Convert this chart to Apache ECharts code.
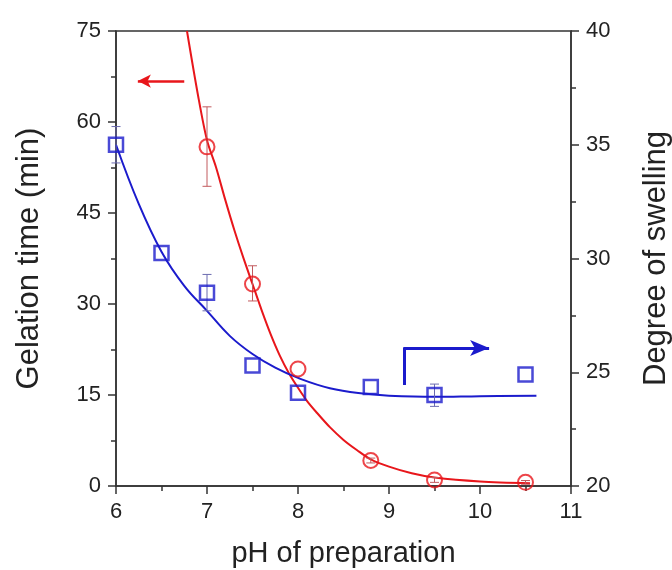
<!DOCTYPE html>
<html>
<head>
<meta charset="utf-8">
<script src="https://cdn.jsdelivr.net/npm/echarts@6/dist/echarts.min.js"></script>
<style>
  html, body { margin: 0; padding: 0; background: #fff; }
  #chart { width: 672px; height: 570px; }
</style>
</head>
<body>
<div id="chart"></div>
<script>
// measured points: gelation time (left axis)
const phGel = [7, 7.5, 8, 8.8, 9.5, 10.5]
const gelTime = [55.9, 33.3, 19.3, 4.2, 1.0, 0.6]
const gelLow = [49.4, 30.5, 19.3, 3.8, 0.6, 0.3]
const gelHigh = [62.5, 36.3, 19.3, 4.6, 1.4, 0.9]

// measured points: degree of swelling (right axis)
const phSwell = [6, 6.5, 7, 7.5, 8, 8.8, 9.5, 10.5]
const swelling = [35.0, 30.24, 28.5, 25.3, 24.1, 24.35, 24.0, 24.9]
const swellLow = [34.2, 30.24, 27.7, 25.3, 24.1, 24.35, 23.5, 24.9]
const swellHigh = [35.8, 30.24, 29.3, 25.3, 24.1, 24.35, 24.48, 24.9]

// fitted curves
const gelFitX = [6.78, 6.9, 7.0, 7.1, 7.2, 7.3, 7.4, 7.5, 7.6, 7.7, 7.8, 7.9, 8.0, 8.1, 8.2, 8.35, 8.5, 8.65, 8.8, 9.0, 9.25, 9.5, 10.0, 10.55]
const gelFitY = [75, 64.5, 57, 52.5, 47.2, 42.2, 37.6, 33.3, 29.0, 25.0, 21.5, 18.6, 16.2, 14.0, 12.2, 9.7, 7.6, 5.9, 4.4, 3.2, 2.1, 1.4, 0.75, 0.45]
const swellFitX = [6.0, 6.25, 6.5, 6.75, 7.0, 7.25, 7.5, 7.75, 8.0, 8.35, 8.75, 9.0, 9.5, 10.0, 10.62]
const swellFitY = [35.0, 32.4, 30.3, 28.8, 27.7, 26.6, 25.8, 25.2, 24.75, 24.3, 24.05, 23.97, 23.92, 23.95, 23.97]

// annotation arrows (data coordinates)
const redArrow = [[6.75, 66.75], [6.24, 66.75]]
const blueArrow = [[9.165, 24.44], [9.165, 26.07], [10.1, 26.07]]

const RED = '#e8161b'
const BLUE = '#1b1bcc'
const FONT = 'Liberation Sans, Arial, sans-serif'

const zip = (a, b) => a.map((v, i) => [v, b[i]])
const zip3 = (a, b, c) => a.map((v, i) => [v, b[i], c[i]])

const chart = echarts.init(document.getElementById('chart'))

// error bar drawer
function errorBar (color) {
  return function (params, api) {
    const x = api.value(0)
    const lo = api.coord([x, api.value(1)])
    const hi = api.coord([x, api.value(2)])
    if (Math.abs(lo[1] - hi[1]) < 1) return null
    const w = 4.5
    const style = { stroke: color, lineWidth: 1 }
    return {
      type: 'group',
      children: [
        { type: 'line', shape: { x1: lo[0], y1: lo[1], x2: hi[0], y2: hi[1] }, style },
        { type: 'line', shape: { x1: lo[0] - w, y1: lo[1], x2: lo[0] + w, y2: lo[1] }, style },
        { type: 'line', shape: { x1: hi[0] - w, y1: hi[1], x2: hi[0] + w, y2: hi[1] }, style }
      ]
    }
  }
}

const axisLine = { show: true, lineStyle: { color: '#333', width: 1.5 } }
const tickLabel = { color: '#222', fontSize: 22, fontFamily: FONT }
const nameStyle = { color: '#222', fontSize: 29, fontFamily: FONT }
const yNameStyle = { color: '#222', fontSize: 31, fontFamily: FONT }
const majorTick = { show: true, length: 8, lineStyle: { color: '#333', width: 1.5 } }
const minorTick = { show: true, splitNumber: 2, length: 5, lineStyle: { color: '#333', width: 1.5 } }

const option = {
  animation: false,
  grid: {
    left: 116,
    right: 101,
    top: 31,
    bottom: 84,
    containLabel: false,
    outerBoundsMode: 'none',
    show: true,
    borderColor: '#333',
    borderWidth: 1.5
  },
  xAxis: {
    type: 'value',
    min: 6,
    max: 11,
    interval: 1,
    name: 'pH of preparation',
    nameLocation: 'middle',
    nameGap: 53,
    nameTextStyle: nameStyle,
    axisLine,
    axisTick: majorTick,
    minorTick,
    axisLabel: Object.assign({ margin: 15 }, tickLabel),
    splitLine: { show: false }
  },
  yAxis: [
    {
      type: 'value',
      min: 0,
      max: 75,
      interval: 15,
      position: 'left',
      name: 'Gelation time (min)',
      nameLocation: 'middle',
      nameGap: 71,
      nameTextStyle: yNameStyle,
      axisLine,
      axisTick: majorTick,
      minorTick,
      axisLabel: Object.assign({ margin: 15 }, tickLabel),
      splitLine: { show: false }
    },
    {
      type: 'value',
      min: 20,
      max: 40,
      interval: 5,
      position: 'right',
      name: 'Degree of swelling',
      nameLocation: 'middle',
      nameGap: 70,
      nameTextStyle: yNameStyle,
      axisLine,
      axisTick: majorTick,
      minorTick,
      axisLabel: Object.assign({ margin: 15 }, tickLabel),
      splitLine: { show: false }
    }
  ],
  series: [
    // gelation fit
    {
      type: 'line',
      yAxisIndex: 0,
      data: zip(gelFitX, gelFitY),
      smooth: 0.3,
      showSymbol: false,
      clip: true,
      lineStyle: { color: RED, width: 2 },
      z: 3,
      markLine: {
        silent: true,
        symbol: ['none', 'arrow'],
        symbolSize: [10, 13],
        label: { show: false },
        lineStyle: { color: RED, width: 2.5, type: 'solid' },
        data: [[{ coord: redArrow[0] }, { coord: redArrow[1] }]]
      }
    },
    // swelling fit
    {
      type: 'line',
      yAxisIndex: 1,
      data: zip(swellFitX, swellFitY),
      smooth: 0.4,
      showSymbol: false,
      lineStyle: { color: BLUE, width: 2 },
      z: 3,
      markLine: {
        silent: true,
        symbol: ['none', 'none'],
        label: { show: false },
        lineStyle: { color: BLUE, width: 3, type: 'solid' },
        data: [[{ coord: blueArrow[0] }, { coord: blueArrow[1] }]]
      }
    },
    // blue arrow head segment
    {
      type: 'line',
      yAxisIndex: 1,
      data: [],
      markLine: {
        silent: true,
        symbol: ['none', 'arrow'],
        symbolSize: [12, 19],
        label: { show: false },
        lineStyle: { color: BLUE, width: 3, type: 'solid' },
        data: [[{ coord: [blueArrow[1][0] - 0.008, blueArrow[1][1]] }, { coord: blueArrow[2] }]]
      }
    },
    // error bars
    {
      type: 'custom',
      yAxisIndex: 0,
      data: zip3(phGel, gelLow, gelHigh),
      encode: { x: 0, y: [1, 2] },
      renderItem: errorBar('#c25a5e'),
      z: 4
    },
    {
      type: 'custom',
      yAxisIndex: 1,
      data: zip3(phSwell, swellLow, swellHigh),
      encode: { x: 0, y: [1, 2] },
      renderItem: errorBar('#6b6bb0'),
      z: 4
    },
    // markers
    {
      type: 'scatter',
      yAxisIndex: 0,
      data: zip(phGel, gelTime),
      symbol: 'circle',
      symbolSize: 15,
      itemStyle: { color: 'rgba(255,255,255,0)', borderColor: RED, borderWidth: 2 },
      z: 5
    },
    {
      type: 'scatter',
      yAxisIndex: 1,
      data: zip(phSwell, swelling),
      symbol: 'rect',
      symbolSize: 14,
      itemStyle: { color: 'rgba(255,255,255,0)', borderColor: BLUE, borderWidth: 2.5 },
      z: 5
    }
  ]
}

chart.setOption(option)
</script>
</body>
</html>
